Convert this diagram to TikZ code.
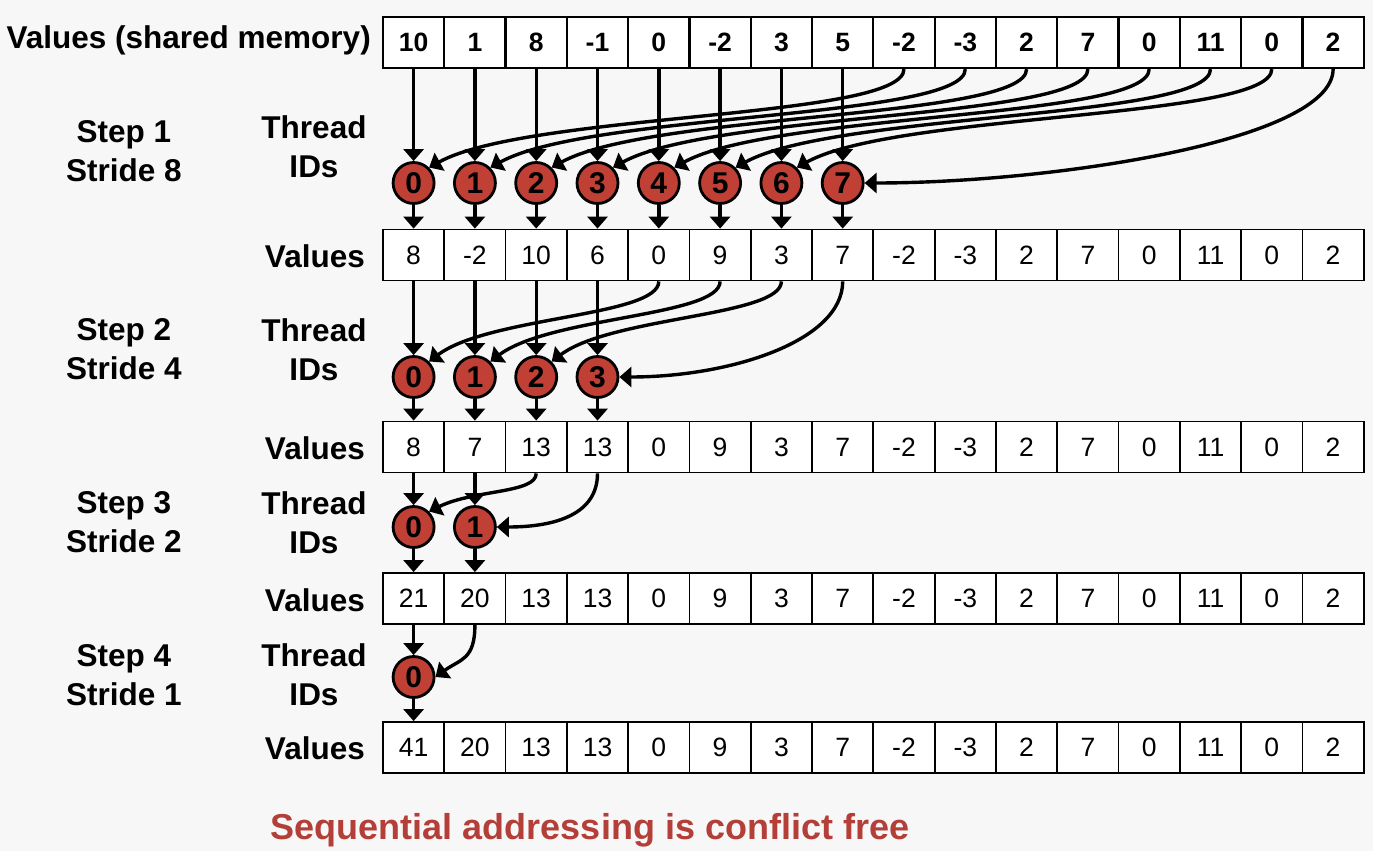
\documentclass[tikz,border=0pt]{standalone}
\usepackage{fontspec}
\setmainfont{Liberation Sans}
\usetikzlibrary{arrows.meta}
\definecolor{bg}{RGB}{247,247,247}
\definecolor{tred}{RGB}{192,64,54}
\definecolor{txtred}{RGB}{180,62,56}
\begin{document}
\begin{tikzpicture}[x=1pt,y=-1pt,
  cell/.style={draw, line width=1.8pt, fill=white, minimum width=61.3pt, minimum height=51pt, inner sep=0pt, font=\fontsize{26.5}{30}\selectfont},
  bcell/.style={cell, line width=2.2pt, font=\fontsize{26.5}{30}\selectfont\bfseries},
  tid/.style={circle, draw, line width=2.8pt, fill=tred, minimum size=41pt, inner sep=0pt, font=\fontsize{30}{30}\selectfont\bfseries},
  lbl/.style={font=\fontsize{31.5}{39}\selectfont\bfseries, align=center, inner sep=0pt},
  arr/.style={line width=3.4pt, -{Triangle[length=12pt,width=20pt]}},
]
\useasboundingbox (0,0) rectangle (1373,851);
\fill[bg] (0,0) rectangle (1373,851);

% rows of values
\foreach \v [count=\i from 0] in {10,1,8,-1,0,-2,3,5,-2,-3,2,7,0,11,0,2}
  \node[bcell] (c1-\i) at ({413.6+61.3*\i},42.5) {\v};
\foreach \v [count=\i from 0] in {8,-2,10,6,0,9,3,7,-2,-3,2,7,0,11,0,2}
  \node[cell] (c2-\i) at ({413.6+61.3*\i},255) {\v};
\foreach \v [count=\i from 0] in {8,7,13,13,0,9,3,7,-2,-3,2,7,0,11,0,2}
  \node[cell] (c3-\i) at ({413.6+61.3*\i},447) {\v};
\foreach \v [count=\i from 0] in {21,20,13,13,0,9,3,7,-2,-3,2,7,0,11,0,2}
  \node[cell] (c4-\i) at ({413.6+61.3*\i},598.5) {\v};
\foreach \v [count=\i from 0] in {41,20,13,13,0,9,3,7,-2,-3,2,7,0,11,0,2}
  \node[cell] (c5-\i) at ({413.6+61.3*\i},747.5) {\v};

% thread circles
\foreach \j in {0,...,7} \node[tid] (t1-\j) at ({413.6+61.3*\j},183) {\j};
\foreach \j in {0,...,3} \node[tid] (t2-\j) at ({413.6+61.3*\j},377) {\j};
\foreach \j in {0,1} \node[tid] (t3-\j) at ({413.6+61.3*\j},527) {\j};
\node[tid] (t4-0) at (413.6,677) {0};

% straight arrows
\foreach \j in {0,...,7} {
  \draw[arr] (c1-\j.south) -- (t1-\j.north);
  \draw[arr] (t1-\j.south) -- (c2-\j.north);
}
\foreach \j in {0,...,3} {
  \draw[arr] (c2-\j.south) -- (t2-\j.north);
  \draw[arr] (t2-\j.south) -- (c3-\j.north);
}
\foreach \j in {0,1} {
  \draw[arr] (c3-\j.south) -- (t3-\j.north);
  \draw[arr] (t3-\j.south) -- (c4-\j.north);
}
\draw[arr] (c4-0.south) -- (t4-0.north);
\draw[arr] (t4-0.south) -- (c5-0.north);

% curved arrows, step 1
\foreach \j [evaluate=\j as \s using int(\j+8)] in {0,...,6}
  \draw[arr] (c1-\s.south) .. controls +(0,50) and +(100,-55) .. (t1-\j.north east);
\draw[arr] (c1-15.south) .. controls +(0,72) and +(185,0) .. (t1-7.east);

% step 2
\foreach \j [evaluate=\j as \s using int(\j+4)] in {0,1,2}
  \draw[arr] (c2-\s.south) .. controls +(0,35) and +(60,-45) .. (t2-\j.north east);
\draw[arr] (c2-7.south) .. controls +(0,60) and +(110,0) .. (t2-3.east);

% step 3
\draw[arr] (c3-2.south) .. controls +(0,20) and +(45,-22) .. (t3-0.north east);
\draw[arr] (c3-3.south) .. controls +(0,45) and +(50,0) .. (t3-1.east);

% step 4
\draw[arr] (c4-1.south) .. controls +(0,35) and +(25,-18) .. (t4-0.east);

% labels
\node[lbl, anchor=east] (vs) at (371,40) {Values (shared memory)};
\node[lbl] (s1) at (124,151) {Step 1\\Stride 8};
\node[lbl] (th1) at (314,147) {Thread\\IDs};
\node[lbl, anchor=east] (v2) at (365,256) {Values};
\node[lbl] (s2) at (124,349.5) {Step 2\\Stride 4};
\node[lbl] (th2) at (314,349.5) {Thread\\IDs};
\node[lbl, anchor=east] (v3) at (365,448) {Values};
\node[lbl] (s3) at (124,522.5) {Step 3\\Stride 2};
\node[lbl] (th3) at (314,523) {Thread\\IDs};
\node[lbl, anchor=east] (v4) at (365,600) {Values};
\node[lbl] (s4) at (124,675) {Step 4\\Stride 1};
\node[lbl] (th4) at (314,675) {Thread\\IDs};
\node[lbl, anchor=east] (v5) at (365,748) {Values};

\node[font=\fontsize{36}{38}\selectfont\bfseries, text=txtred, inner sep=0pt] (msg) at (590,830) {Sequential addressing is conflict free};
\end{tikzpicture}
\end{document}
